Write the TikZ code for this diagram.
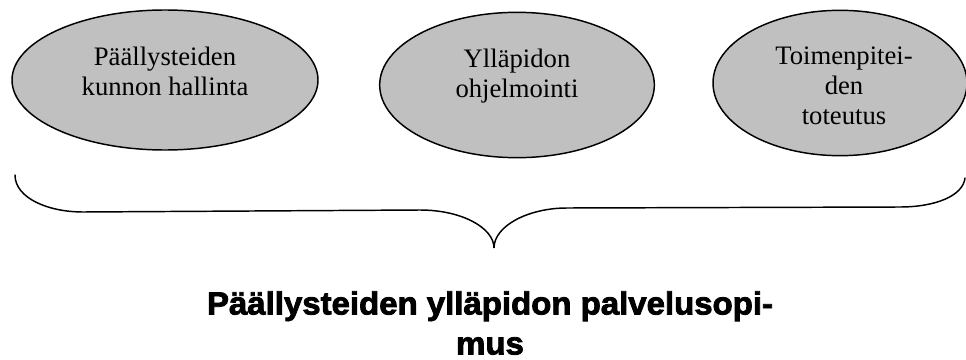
\documentclass[tikz,border=0pt]{standalone}
\usepackage{fontspec}
\setmainfont{Liberation Serif}
\newfontfamily\heavyfont[BoldFeatures={FakeBold=2.6,FakeStretch=1.03}]{Liberation Sans}
\usepackage{tikz}
\usetikzlibrary{shapes.geometric,positioning}
\definecolor{OvalGrey}{HTML}{C0C0C0}

\begin{document}
\begin{tikzpicture}[
    x=0.75pt, y=-0.75pt,
    every node/.style={font=\fontsize{20}{22.4}\selectfont},
    oval/.style={draw, ellipse, fill=OvalGrey, line width=1.1pt, inner sep=0pt},
    ovaltext/.style={align=center, inner sep=0pt},
    bracepath/.style={line width=1.1pt, line cap=round}
]
\useasboundingbox (0,0) rectangle (966,360);
% the three tasks
\node[oval, minimum width=229.5pt, minimum height=105pt] (kunto) at (165,80) {};
\node[oval, minimum width=206pt, minimum height=109pt] (ohjelma) at (517,85) {};
\node[oval, minimum width=190.5pt, minimum height=109pt] (toteutus) at (840,83) {};
\node[ovaltext, below=28pt of kunto.north] (kuntotxt) {Päällysteiden\\kunnon hallinta};
\node[ovaltext, below=28pt of ohjelma.north] (ohjelmatxt) {Ylläpidon\\ohjelmointi};
\node[ovaltext, below=28pt of toteutus.north, xshift=3pt] (toteutustxt) {Toimenpitei-\\den\\toteutus};

% brace under the tasks
\coordinate (bl) at (15,175);
\coordinate (bm) at (494,248);
\coordinate (br) at (965,178);
\draw[bracepath] (bl) .. controls (15,198) and (48,212) .. (83,212) -- (420,210)
    .. controls (462,210) and (494,228) .. (bm)
    .. controls (494,226) and (528,208) .. (567,208) -- (900,207)
    .. controls (935,207) and (963,196) .. (br);

\node[align=center, inner sep=0pt, anchor=north,
      font=\heavyfont\bfseries\fontsize{24}{30}\selectfont] (sopimus) at (490,291)
    {Päällysteiden ylläpidon palvelusopi-\\mus};
\end{tikzpicture}
\end{document}
